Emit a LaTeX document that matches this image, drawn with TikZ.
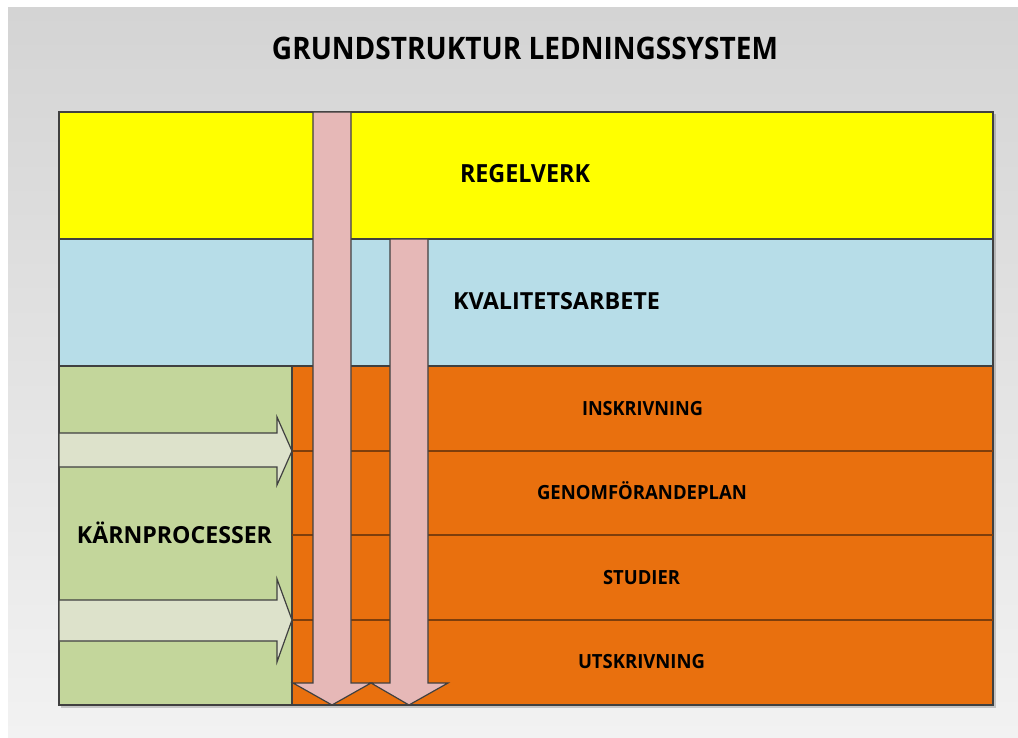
\documentclass[tikz,border=0pt]{standalone}
\usepackage{graphicx}
\usepackage{fontspec}
\setmainfont{Open Sans}
\newcommand\fw[2]{\resizebox{#1}{\height}{#2}}
\definecolor{cyel}{RGB}{255,255,0}
\definecolor{cblue}{RGB}{183,221,232}
\definecolor{cgreen}{RGB}{195,214,155}
\definecolor{corange}{RGB}{233,112,14}
\definecolor{cpink}{RGB}{230,184,183}
\definecolor{carrow}{RGB}{221,226,203}
\definecolor{cedge}{RGB}{64,64,64}
\definecolor{cdiv}{RGB}{125,62,12}
\definecolor{bgtop}{RGB}{212,212,212}
\definecolor{bgbot}{RGB}{242,242,242}
\tikzset{
  blockbox/.style={draw=cedge, line width=1.2pt, line join=miter},
  lbl/.style={anchor=base, inner sep=0pt, font=\bfseries},
}
\begin{document}
\begin{tikzpicture}[x=1pt,y=-1pt]
\useasboundingbox (0,0) rectangle (1018,738);
\fill[white] (0,0) rectangle (1018,738);
\shade[top color=bgtop, bottom color=bgbot] (8,8) rectangle (1018,738);
% shadow
\fill[black, opacity=0.18] (61,114) rectangle (996,708);
% layers
\fill[cyel, blockbox] (59,112) rectangle (993,239);
\fill[cblue, blockbox] (59,239) rectangle (993,366);
\fill[cgreen, blockbox] (59,366) rectangle (292,705);
\fill[corange, blockbox] (292,366) rectangle (993,705);
\draw[cdiv, line width=1.4pt] (292,451) -- (993,451);
\draw[cdiv, line width=1.4pt] (292,535) -- (993,535);
\draw[cdiv, line width=1.4pt] (292,620) -- (993,620);
% green process arrows
\fill[carrow, blockbox] (59,433) -- (277,433) -- (277,417) -- (292,451) -- (277,485) -- (277,467) -- (59,467) -- cycle;
\fill[carrow, blockbox] (59,600) -- (277,600) -- (277,579) -- (292,620) -- (277,662) -- (277,641) -- (59,641) -- cycle;
% pink arrows
\fill[cpink, blockbox] (313,112) -- (351,112) -- (351,683) -- (371,683) -- (332,705) -- (293,683) -- (313,683) -- cycle;
\fill[cpink, blockbox] (390,239) -- (428,239) -- (428,683) -- (448,683) -- (409,705) -- (371,683) -- (390,683) -- cycle;
% texts
\node[lbl, font=\fontsize{31}{31}\selectfont\bfseries] (title) at (525,60) {\fw{506pt}{GRUNDSTRUKTUR LEDNINGSSYSTEM}};
\node[lbl, font=\fontsize{25}{25}\selectfont\bfseries] (regel) at (525,183) {\fw{130pt}{REGELVERK}};
\node[lbl, font=\fontsize{23.5}{23.5}\selectfont\bfseries] (kval) at (556.5,309) {\fw{207pt}{KVALITETSARBETE}};
\node[lbl, font=\fontsize{23.5}{23.5}\selectfont\bfseries] (karn) at (174.5,543) {\fw{195pt}{KÄRNPROCESSER}};
\node[lbl, font=\fontsize{19.5}{19.5}\selectfont\bfseries] (insk) at (642.5,415) {\fw{121pt}{INSKRIVNING}};
\node[lbl, font=\fontsize{19.5}{19.5}\selectfont\bfseries] (genom) at (642,499) {\fw{210pt}{GENOMFÖRANDEPLAN}};
\node[lbl, font=\fontsize{19.5}{19.5}\selectfont\bfseries] (stud) at (641.5,584) {\fw{77pt}{STUDIER}};
\node[lbl, font=\fontsize{19.5}{19.5}\selectfont\bfseries] (utsk) at (641.5,668) {\fw{127pt}{UTSKRIVNING}};
\end{tikzpicture}
\end{document}
